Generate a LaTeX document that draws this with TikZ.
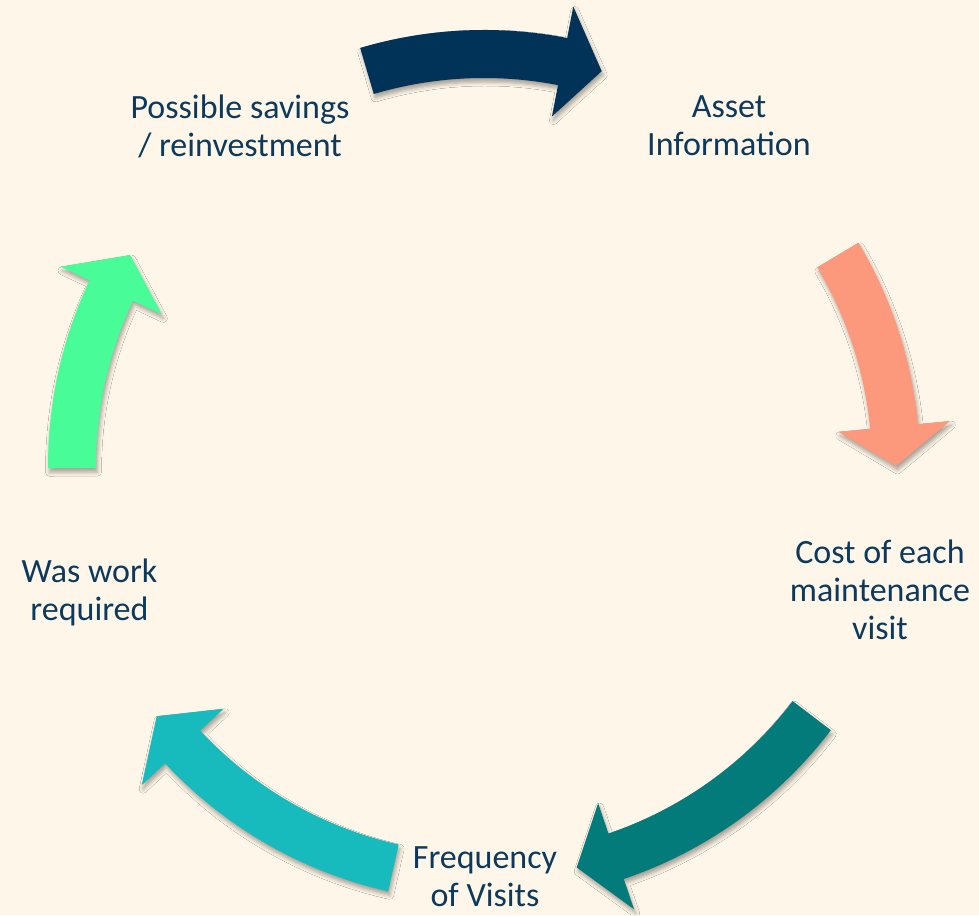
\documentclass[tikz,border=0pt]{standalone}
\usepackage{fontspec}
\setmainfont{Carlito}
\usepackage{tikz}
\usetikzlibrary{shadows.blur}

\definecolor{bgcream}{HTML}{FEF6E8}
\definecolor{txtblue}{HTML}{0D3A5C}
\definecolor{arrnavy}{HTML}{003357}
\definecolor{arrsalmon}{HTML}{FC997C}
\definecolor{arrteal}{HTML}{037B7B}
\definecolor{arrcyan}{HTML}{17BBBE}
\definecolor{arrgreen}{HTML}{48FD98}

% one bent arrow on the ring: colour, tail angle, head angle, tip angle
\newcommand{\ringarrow}[4]{%
 \fill[#1,shadowed] (#2:436) arc[start angle=#2, end angle=#3, radius=436]
 -- (#3:468) -- (#4:412) -- (#3:356) -- (#3:388)
 arc[start angle=#3, end angle=#2, radius=388] -- cycle;}

\begin{document}
\begin{tikzpicture}[x=1pt,y=1pt]
 \tikzset{label/.style={text=txtblue,align=center,inner sep=0pt,
 font=\fontsize{34}{38}\selectfont},
 shadowed/.style={blur shadow={shadow xshift=1.5pt,shadow yshift=-4pt,
 shadow blur radius=4pt,shadow opacity=35}}}
 \fill[bgcream] (0,0) rectangle (979,915);
 \useasboundingbox (0,0) rectangle (979,915);

 \begin{scope}[shift={(484,449)}]
 \ringarrow{arrnavy}{106.5}{79}{73.4}
 \ringarrow{arrsalmon}{30.8}{5.5}{0}
 \ringarrow{arrteal}{-37.3}{-71.3}{-77}
 \ringarrow{arrcyan}{-102.7}{-137}{-142.6}
 \ringarrow{arrgreen}{180.3}{154.8}{149.2}
 \end{scope}

 \node[label] (savings) at (240,789) {Possible savings\\/ reinvestment};
 \node[label] (asset)   at (729,789) {Asset\\Information};
 \node[label] (cost)    at (880,325) {Cost of each\\maintenance\\visit};
 \node[label] (work)    at (89.5,323) {Was work\\required};
 \node[label] (visits)  at (485,38)  {Frequency\\of Visits};
\end{tikzpicture}
\end{document}
